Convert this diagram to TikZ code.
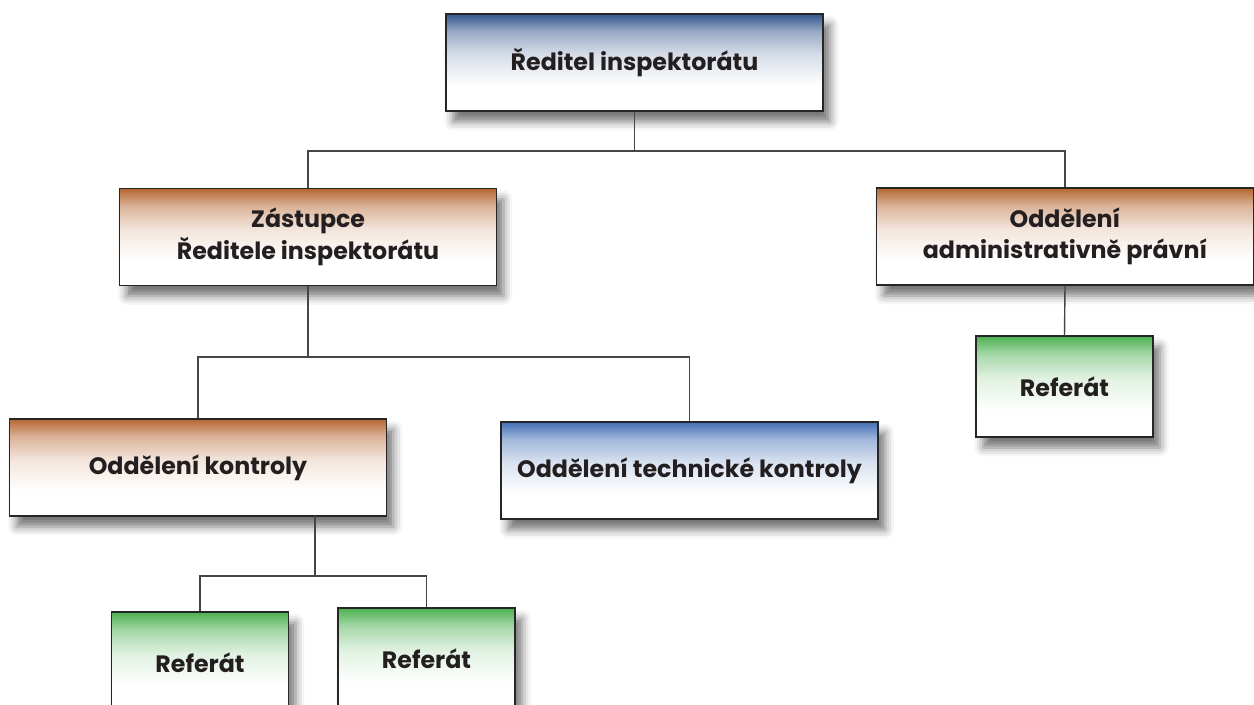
\documentclass[tikz,border=0pt]{standalone}
\usepackage{fontspec}
\setmainfont{Poppins}
\usetikzlibrary{shadows.blur}
\definecolor{dirblue}{RGB}{52,86,140}
\definecolor{techblue}{RGB}{68,112,182}
\definecolor{unitbrown}{RGB}{181,102,48}
\definecolor{refgreen}{RGB}{76,176,80}
\definecolor{inktext}{RGB}{35,31,32}
\definecolor{wire}{RGB}{70,70,70}
\pgfdeclareverticalshading{fadedir}{100bp}{color(0bp)=(white); color(38bp)=(white); color(54bp)=(dirblue!20); color(66bp)=(dirblue!50); color(75bp)=(dirblue); color(100bp)=(dirblue)}
\pgfdeclareverticalshading{fadetech}{100bp}{color(0bp)=(white); color(38bp)=(white); color(54bp)=(techblue!20); color(66bp)=(techblue!50); color(75bp)=(techblue); color(100bp)=(techblue)}
\pgfdeclareverticalshading{fadebrown}{100bp}{color(0bp)=(white); color(38bp)=(white); color(54bp)=(unitbrown!17); color(66bp)=(unitbrown!50); color(75bp)=(unitbrown); color(100bp)=(unitbrown)}
\pgfdeclareverticalshading{fadegreen}{100bp}{color(0bp)=(white); color(38bp)=(white); color(54bp)=(refgreen!17); color(66bp)=(refgreen!50); color(75bp)=(refgreen); color(100bp)=(refgreen)}
\tikzstyle{unit} = [draw=black!85, line width=0.8pt, align=center, text=inktext,
  font=\fontsize{13.5}{18}\selectfont\bfseries, minimum width=7.54cm, minimum height=1.94cm,
  blur shadow={shadow xshift=4pt, shadow yshift=-6pt, shadow blur radius=5pt, shadow opacity=55}]
\tikzstyle{chief} = [unit, shading=fadedir]
\tikzstyle{section} = [unit, shading=fadebrown]
\tikzstyle{tech} = [unit, shading=fadetech]
\tikzstyle{desk} = [unit, shading=fadegreen, minimum width=3.54cm, minimum height=2.02cm]
\tikzstyle{link} = [draw=wire, line width=0.8pt]

\begin{document}
\begin{tikzpicture}[x=0.02cm, y=-0.02cm]
%\draw[help lines] (0,0) grid[step=50] (1254,705);
\useasboundingbox (0,0) rectangle (1254,705);
\node[chief] (dir) at (634.5,62.5) {Ředitel inspektorátu};
\node[section] (dep) at (308,237) {Zástupce\\Ředitele inspektorátu};
\node[section] (adm) at (1065,236.5) {Oddělení\\administrativně právní};
\node[section] (ctl) at (198,467.5) {Oddělení kontroly};
\node[tech] (tec) at (689.5,470.5) {Oddělení technické kontroly};
\node[desk] (ref0) at (1064.5,386.5) {Referát};
\node[desk] (ref1) at (200,662.5) {Referát};
\node[desk] (ref2) at (426.5,658.5) {Referát};

\coordinate (b1) at (dir.south |- 0,151);
\coordinate (b2) at (dep.south |- 0,357);
\coordinate (c3) at (315,516);
\coordinate (b3) at (315,576);

\path[link] (dir.south) -- (b1);
\path[link] (dep.north) |- (b1) -| (adm.north);
\path[link] (dep.south) -- (b2);
\path[link] (ctl.north) |- (b2) -| (tec.north);
\path[link] (c3) -- (b3);
\path[link] (ref1.north) |- (b3) -| (ref2.north);
\path[link] (adm.south) -- (ref0.north);
\end{tikzpicture}
\end{document}
